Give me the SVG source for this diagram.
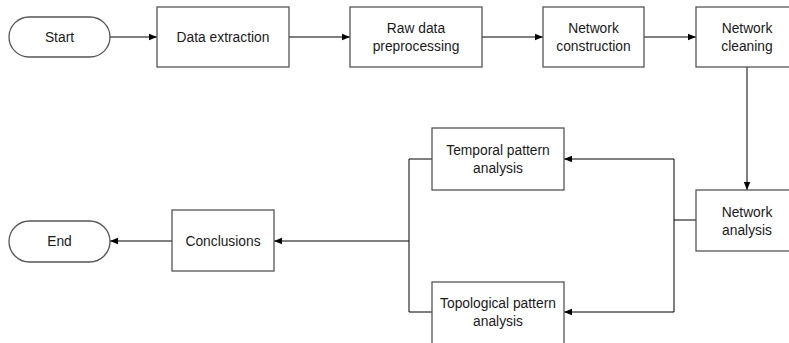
<svg xmlns="http://www.w3.org/2000/svg" width="789" height="343" viewBox="0 0 789 343">
<style>
.n{fill:#fff;stroke:#555;stroke-width:1.3}
.t{font-family:"Liberation Sans",Arial,sans-serif;font-size:13.8px;fill:#1a1a1a;text-anchor:middle;dominant-baseline:central}
.c{fill:none;stroke:#000;stroke-width:1}
</style>
<defs>
<marker id="a" viewBox="0 0 10 10" refX="10" refY="5" markerWidth="8" markerHeight="8" markerUnits="userSpaceOnUse" orient="auto">
<path d="M0,1 L10,5 L0,9 Z" fill="#000"/>
</marker>
</defs>
<g id="connectors">
<path class="c" d="M110,37 H157" marker-end="url(#a)"/>
<path class="c" d="M289,37 H350" marker-end="url(#a)"/>
<path class="c" d="M482,37 H543" marker-end="url(#a)"/>
<path class="c" d="M644,37 H696" marker-end="url(#a)"/>
<path class="c" d="M747,67 V190" marker-end="url(#a)"/>
<path class="c" d="M696,220 H674 V159 H564" marker-end="url(#a)"/>
<path class="c" d="M674,220 V312 H564" marker-end="url(#a)"/>
<path class="c" d="M432,159 H409 V312 H432"/>
<path class="c" d="M409,241 H274" marker-end="url(#a)"/>
<path class="c" d="M172,241 H110" marker-end="url(#a)"/>
</g>
<g id="start"><rect class="n" x="9" y="17" width="101" height="40" rx="20"/><text class="t" x="59.5" y="37">Start</text></g>
<g id="data-extraction"><rect class="n" x="157" y="7" width="132" height="60"/><text class="t" x="223" y="37">Data extraction</text></g>
<g id="raw-data"><rect class="n" x="350" y="7" width="132" height="60"/><text class="t" x="416" y="28">Raw data</text><text class="t" x="416" y="46">preprocessing</text></g>
<g id="network-construction"><rect class="n" x="543" y="7" width="101" height="60"/><text class="t" x="593.5" y="28">Network</text><text class="t" x="593.5" y="46">construction</text></g>
<g id="network-cleaning"><rect class="n" x="696" y="7" width="102" height="60"/><text class="t" x="747" y="28">Network</text><text class="t" x="747" y="46">cleaning</text></g>
<g id="network-analysis"><rect class="n" x="696" y="190" width="102" height="61"/><text class="t" x="747" y="212">Network</text><text class="t" x="747" y="230">analysis</text></g>
<g id="temporal"><rect class="n" x="432" y="128" width="132" height="62"/><text class="t" x="498" y="150">Temporal pattern</text><text class="t" x="498" y="168">analysis</text></g>
<g id="topological"><rect class="n" x="432" y="282" width="132" height="62"/><text class="t" x="498" y="303">Topological pattern</text><text class="t" x="498" y="321">analysis</text></g>
<g id="conclusions"><rect class="n" x="172" y="210" width="102" height="61"/><text class="t" x="223" y="241">Conclusions</text></g>
<g id="end"><rect class="n" x="9" y="221" width="101" height="41" rx="20.5"/><text class="t" x="59.5" y="241">End</text></g>
</svg>
